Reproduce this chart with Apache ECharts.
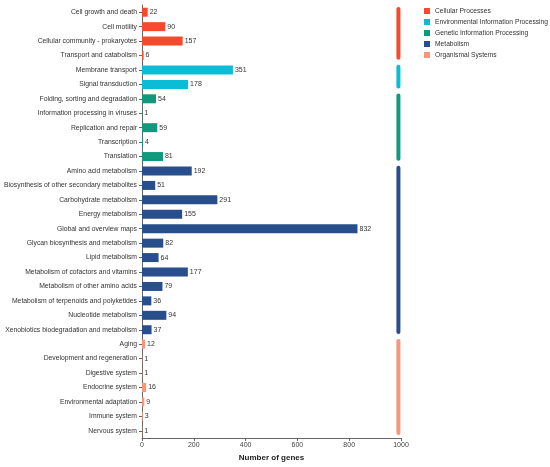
<!DOCTYPE html>
<html>
<head>
<meta charset="utf-8">
<script src="https://cdn.jsdelivr.net/npm/echarts@6/dist/echarts.min.js"></script>
<style>
  html, body { margin: 0; padding: 0; background: #fff; }
  #main { width: 550px; height: 467px; }
</style>
</head>
<body>
<div id="main"></div>
<script>
// KEGG pathway categories, top to bottom
const categories = [
  'Cell growth and death', 'Cell motility', 'Cellular community - prokaryotes', 'Transport and catabolism',
  'Membrane transport', 'Signal transduction',
  'Folding, sorting and degradation', 'Information processing in viruses', 'Replication and repair',
  'Transcription', 'Translation',
  'Amino acid metabolism', 'Biosynthesis of other secondary metabolites', 'Carbohydrate metabolism',
  'Energy metabolism', 'Global and overview maps', 'Glycan biosynthesis and metabolism', 'Lipid metabolism',
  'Metabolism of cofactors and vitamins', 'Metabolism of other amino acids',
  'Metabolism of terpenoids and polyketides', 'Nucleotide metabolism',
  'Xenobiotics biodegradation and metabolism',
  'Aging', 'Development and regeneration', 'Digestive system', 'Endocrine system',
  'Environmental adaptation', 'Immune system', 'Nervous system'
];
const geneCounts = [
  22, 90, 157, 6,
  351, 178,
  54, 1, 59, 4, 81,
  192, 51, 291, 155, 832, 82, 64, 177, 79, 36, 94, 37,
  12, 1, 1, 16, 9, 3, 1
];
const groupNames = [
  'Cellular Processes', 'Environmental Information Processing', 'Genetic Information Processing',
  'Metabolism', 'Organismal Systems'
];
// first and last category index of each group
const groupStart = [0, 4, 6, 11, 23];
const groupEnd = [3, 5, 10, 22, 29];
const groupColors = ['#F44B2F', '#0BBCD6', '#11997E', '#284E8C', '#F7967B'];
const xTicks = [0, 200, 400, 600, 800, 1000];

const font = 'Liberation Sans, Arial, sans-serif';

// one bar series per group, empty elsewhere
const barSeries = groupNames.map(function (name, g) {
  const d = [];
  for (let i = 0; i < categories.length; i++) {
    d.push(i >= groupStart[g] && i <= groupEnd[g] ? geneCounts[i] : '-');
  }
  return {
    name: name,
    type: 'bar',
    stack: 'all',
    barWidth: 9,
    itemStyle: { color: groupColors[g] },
    label: {
      show: true,
      position: 'right',
      distance: 2,
      color: '#333',
      fontSize: 7,
      fontFamily: font
    },
    data: d
  };
});

// the rounded group strips on the right
const stripData = groupNames.map(function (name, g) {
  return [990, groupStart[g], groupEnd[g], g];
});

const stripSeries = {
  name: 'groups',
  type: 'custom',
  silent: true,
  clip: false,
  renderItem: function (params, api) {
    const s = api.coord([api.value(0), api.value(1)]);
    const e = api.coord([api.value(0), api.value(2)]);
    const band = api.size([0, 1])[1];
    const top = s[1] - band / 2 + 2;
    const bottom = e[1] + band / 2 - 3;
    return {
      type: 'rect',
      shape: { x: s[0] - 2, y: top, width: 4, height: bottom - top, r: 2 },
      style: { fill: groupColors[api.value(3)] }
    };
  },
  data: stripData
};

const chart = echarts.init(document.getElementById('main'));
chart.setOption({
  backgroundColor: '#fff',
  animation: false,
  legend: {
    data: groupNames,
    orient: 'vertical',
    left: 424,
    top: 7,
    padding: 0,
    itemWidth: 6,
    itemHeight: 6,
    itemGap: 3,
    icon: 'rect',
    textStyle: { color: '#333', fontSize: 6.7, fontFamily: font, lineHeight: 8 }
  },
  grid: { left: 142, right: 149, top: 5, bottom: 27 },
  xAxis: {
    type: 'value',
    min: 0,
    max: 1000,
    interval: 200,
    name: 'Number of genes',
    nameLocation: 'middle',
    nameGap: 16,
    nameTextStyle: { color: '#222', fontSize: 8, fontWeight: 'bold', fontFamily: font },
    axisLine: { show: true, lineStyle: { color: '#666', width: 1 } },
    axisTick: { show: true, length: 3, lineStyle: { color: '#666' } },
    axisLabel: {
      color: '#444', fontSize: 7, fontFamily: font, margin: 4,
      formatter: function (v) { return xTicks.indexOf(v) >= 0 ? String(v) : ''; }
    },
    splitLine: { show: false }
  },
  yAxis: {
    type: 'category',
    inverse: true,
    data: categories,
    axisLine: { show: true, lineStyle: { color: '#666', width: 1 } },
    axisTick: { show: true, alignWithLabel: true, length: 3, lineStyle: { color: '#666' } },
    axisLabel: { color: '#333', fontSize: 6.8, fontFamily: font, margin: 5, interval: 0 }
  },
  series: barSeries.concat([stripSeries])
});
</script>
</body>
</html>
